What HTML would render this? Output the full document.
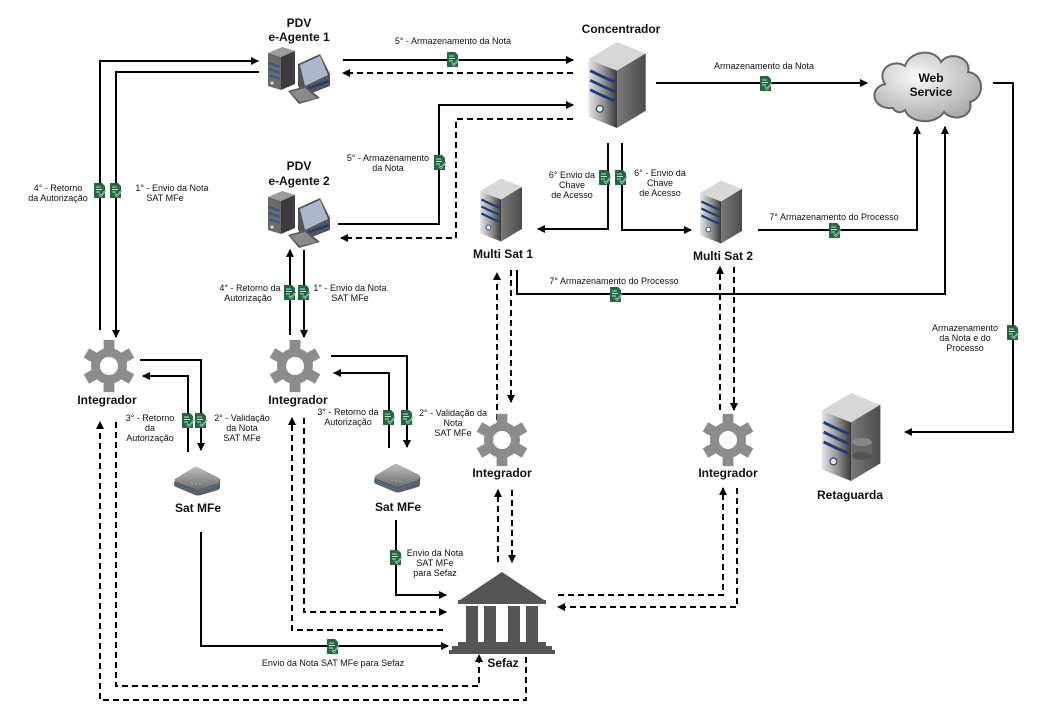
<!DOCTYPE html>
<html><head><meta charset="utf-8"><style>
html,body{margin:0;padding:0;background:#fff;}
svg{display:block;font-family:"Liberation Sans",Arial,sans-serif;}
.b{font-weight:bold;font-size:12px;fill:#111;}
.s{font-size:9px;fill:#111;}
</style></head><body>
<svg width="1050" height="718" viewBox="0 0 1050 718" xmlns="http://www.w3.org/2000/svg">
<defs>
<marker id="ar" markerWidth="8" markerHeight="8" refX="7" refY="4" orient="auto" markerUnits="userSpaceOnUse"><path d="M0,0 L8,4 L0,8 z" fill="#000"/></marker>
<symbol id="doc" viewBox="0 0 12 15" width="12" height="15">
<path d="M0,0 H8 L11,3 V15 H0 z" fill="#1f6b3f"/>
<path d="M2,4 H7 M2,6.5 H8 M2,9 H6" stroke="#fff" stroke-width="0.8"/>
<path d="M5,11 L7,13 L12,7" stroke="#fff" stroke-width="1.6" fill="none"/>
<path d="M5,11 L7,13 L12,7" stroke="#1f6b3f" stroke-width="0.7" fill="none"/>
</symbol>
<linearGradient id="sg" x1="0" x2="1"><stop offset="0" stop-color="#e6e6e6"/><stop offset="0.5" stop-color="#9a9a9a"/><stop offset="1" stop-color="#3a3a3a"/></linearGradient>
<linearGradient id="sg2" x1="0" x2="1"><stop offset="0" stop-color="#cfcfcf"/><stop offset="1" stop-color="#6a6a6a"/></linearGradient>
<linearGradient id="bg" x1="0" y1="0" x2="0" y2="1"><stop offset="0" stop-color="#bdbdbd"/><stop offset="1" stop-color="#6e6e6e"/></linearGradient>
<radialGradient id="cg" cx="0.4" cy="0.35" r="0.7"><stop offset="0" stop-color="#fafafa"/><stop offset="1" stop-color="#a8a8a8"/></radialGradient>
<symbol id="server" viewBox="0 0 60 90" width="60" height="90">
<polygon points="0,18 30,0 60,12 30,30" fill="#d8d8d8"/>
<polygon points="0,18 30,30 30,90 0,78" fill="url(#sg)"/>
<polygon points="30,30 60,12 60,72 30,90" fill="url(#sg2)"/>
<polygon points="30,30 60,12 60,72 30,90" fill="#333" opacity="0.55"/>
<path d="M2,30 Q14,36 28,42 M2,40 Q14,46 28,52 M2,50 Q14,56 28,62" stroke="#1c3f7a" stroke-width="3" fill="none"/>
<circle cx="12" cy="70" r="3.5" fill="#eee" stroke="#1c3f7a" stroke-width="1.2"/>
</symbol>
<symbol id="pc" viewBox="0 0 64 60" width="64" height="60">
<polygon points="2,9 16,3 29,7 15,13" fill="#9a9a9a"/>
<polygon points="2,9 15,13 15,46 2,42" fill="#6a6a6a"/>
<polygon points="15,13 29,7 29,40 15,46" fill="#3c3c3c"/>
<path d="M3,19 L14,23 M3,25 L14,29 M3,31 L14,35" stroke="#2a5b9a" stroke-width="2"/>
<circle cx="6" cy="39" r="1.6" fill="#ddd"/>
<polygon points="32,20 54,10 64,30 64,42 38,52 32,42" fill="#555"/>
<polygon points="34,21 54,12 62,31 39,42" fill="#a9b8cc"/>
<path d="M37,46 L63,37" stroke="#1c3f7a" stroke-width="2.5"/>
<polygon points="22,47 40,42 54,54 33,60" fill="#5a5a5a"/>
<polygon points="24,48 39,44 51,54 34,58" fill="#8a8a8a"/>
</symbol>
<symbol id="gear" viewBox="-30 -30 60 60" width="60" height="60">
<g fill="#8c8c8c">
<circle r="20"/>
<rect x="-6" y="-29" width="12" height="58"/>
<rect x="-6" y="-29" width="12" height="58" transform="rotate(60)"/>
<rect x="-6" y="-29" width="12" height="58" transform="rotate(120)"/>
</g>
<circle r="10" fill="#fff"/>
</symbol>
<symbol id="sat" viewBox="0 0 48 30" width="48" height="30">
<path d="M2,13 L20,2 Q23,0 26,2 L46,12 Q48,14 47,17 L47,21 Q47,23 45,24 L28,29 Q25,30 22,29 L3,21 Q1,20 1,18 z" fill="#5e5e5e"/>
<path d="M2,13 L20,2 Q23,0 26,2 L46,12 Q48,14 45,17 L28,23 Q25,24 22,23 L4,16 Q1,15 2,13 z" fill="url(#bg)"/>
<path d="M2,19 L23,27 L46,19" stroke="#3d6fc0" stroke-width="1" fill="none"/>
<path d="M18,17 h2 M22,18 h2 M26,18 h2" stroke="#7ec87e" stroke-width="1"/>
</symbol>
</defs>

<g stroke="#000" stroke-width="2" fill="none">
<path d="M100,330 V61 H258" marker-end="url(#ar)"/>
<path d="M259,72 H116 V337" marker-end="url(#ar)"/>
<path d="M343,60 H573" marker-end="url(#ar)"/>
<path d="M338,224 H439 V105 H573" marker-end="url(#ar)"/>
<path d="M656,83 H867" marker-end="url(#ar)"/>
<path d="M993,83 H1013 V432 H905" marker-end="url(#ar)"/>
<path d="M608,143 V229 H538" marker-end="url(#ar)"/>
<path d="M622,143 V230 H691" marker-end="url(#ar)"/>
<path d="M758,230 H917 V127" marker-end="url(#ar)"/>
<path d="M517,270 V294 H945 V127" marker-end="url(#ar)"/>
<path d="M140,360 H201 V450" marker-end="url(#ar)"/>
<path d="M188,452 V376 H143" marker-end="url(#ar)"/>
<path d="M290,335 V250" marker-end="url(#ar)"/>
<path d="M304,250 V337" marker-end="url(#ar)"/>
<path d="M331,356 H407 V447" marker-end="url(#ar)"/>
<path d="M389,448 V373 H334" marker-end="url(#ar)"/>
<path d="M396,520 V595 H446" marker-end="url(#ar)"/>
<path d="M201,532 V646 H448" marker-end="url(#ar)"/>
</g>
<g stroke="#000" stroke-width="2" fill="none" stroke-dasharray="6,4">
<path d="M573,73 H343" marker-end="url(#ar)"/>
<path d="M573,119 H456 V238 H341" marker-end="url(#ar)"/>
<path d="M497,420 V273" marker-end="url(#ar)"/>
<path d="M511,270 V402" marker-end="url(#ar)"/>
<path d="M720,410 V267" marker-end="url(#ar)"/>
<path d="M734,267 V410" marker-end="url(#ar)"/>
<path d="M498,562 V490" marker-end="url(#ar)"/>
<path d="M512,490 V562" marker-end="url(#ar)"/>
<path d="M558,595 H723 V488" marker-end="url(#ar)"/>
<path d="M737,488 V607 H558" marker-end="url(#ar)"/>
<path d="M443,630 H292 V418" marker-end="url(#ar)"/>
<path d="M304,418 V612 H446" marker-end="url(#ar)"/>
<path d="M526,657 V700 H100 V422" marker-end="url(#ar)"/>
<path d="M116,422 V686 H479 V655" marker-end="url(#ar)"/>
</g>

<g>
<use href="#doc" x="94" y="183"/><use href="#doc" x="110" y="183"/>
<use href="#doc" x="447" y="52"/><use href="#doc" x="434" y="155"/>
<use href="#doc" x="760" y="76"/><use href="#doc" x="1007" y="325"/>
<use href="#doc" x="599" y="170"/><use href="#doc" x="615" y="170"/>
<use href="#doc" x="829" y="223"/><use href="#doc" x="610" y="287"/>
<use href="#doc" x="182" y="413"/><use href="#doc" x="195" y="413"/>
<use href="#doc" x="284" y="285"/><use href="#doc" x="298" y="285"/>
<use href="#doc" x="383" y="410"/><use href="#doc" x="401" y="410"/>
<use href="#doc" x="390" y="550"/><use href="#doc" x="327" y="639"/>
</g>

<use href="#pc" x="266" y="44"/>
<use href="#pc" x="266" y="188"/>
<use href="#server" x="587" y="42" width="60" height="86"/>
<use href="#server" x="480" y="175" width="42" height="70"/>
<use href="#server" x="700" y="177" width="42" height="70"/>
<use href="#server" x="815" y="393" width="72" height="88"/>
<ellipse cx="862" cy="442" rx="10" ry="4" fill="#555"/><rect x="852" y="442" width="20" height="14" fill="#666"/><ellipse cx="862" cy="456" rx="10" ry="4" fill="#555"/><ellipse cx="862" cy="442" rx="10" ry="4" fill="#888"/>
<use href="#gear" x="82" y="339" width="54" height="54"/>
<use href="#gear" x="268" y="339" width="54" height="54"/>
<use href="#gear" x="475" y="413" width="54" height="54"/>
<use href="#gear" x="701" y="413" width="54" height="54"/>
<use href="#sat" x="173" y="466"/>
<use href="#sat" x="373" y="463"/>
<path d="M893,108 C872,110 868,88 885,84 C876,70 892,58 905,66 C910,50 935,48 941,62 C950,50 972,58 968,72 C985,74 985,98 970,102 C974,118 952,122 944,112 C936,125 910,124 905,110 C900,114 895,112 893,108 z" fill="url(#cg)" stroke="#666" stroke-width="2"/>
<g fill="#555">
<polygon points="502,572 460,600 544,600"/>
<rect x="458" y="600" width="88" height="4"/>
<rect x="466" y="606" width="12" height="36"/><rect x="484" y="606" width="12" height="36"/><rect x="508" y="606" width="12" height="36"/><rect x="526" y="606" width="12" height="36"/>
<rect x="458" y="642" width="88" height="4"/><rect x="452" y="646" width="100" height="4"/><rect x="449" y="650" width="106" height="4"/>
</g>

<g class="b" text-anchor="middle">
<text x="299" y="27">PDV</text><text x="299" y="41">e-Agente 1</text>
<text x="299" y="170">PDV</text><text x="299" y="185">e-Agente 2</text>
<text x="621" y="33">Concentrador</text>
<text x="931" y="82">Web</text><text x="931" y="96">Service</text>
<text x="503" y="258">Multi Sat 1</text>
<text x="723" y="260">Multi Sat 2</text>
<text x="107" y="404">Integrador</text>
<text x="298" y="404">Integrador</text>
<text x="502" y="477">Integrador</text>
<text x="728" y="477">Integrador</text>
<text x="198" y="512">Sat MFe</text>
<text x="398" y="511">Sat MFe</text>
<text x="503" y="667">Sefaz</text>
<text x="850" y="499">Retaguarda</text>
</g>
<g class="s" text-anchor="middle">
<text x="58" y="191">4° - Retorno</text><text x="58" y="201">da Autorização</text>
<text x="172" y="191">1° - Envio da Nota</text><text x="165" y="201">SAT MFe</text>
<text x="453" y="44">5° - Armazenamento da Nota</text>
<text x="388" y="161">5° - Armazenamento</text><text x="388" y="171">da Nota</text>
<text x="764" y="69">Armazenamento da Nota</text>
<text x="965" y="331">Armazenamento</text><text x="965" y="341">da Nota e do</text><text x="965" y="351">Processo</text>
<text x="572" y="178">6° Envio da</text><text x="572" y="188">Chave</text><text x="572" y="198">de Acesso</text>
<text x="660" y="176">6° - Envio da</text><text x="660" y="186">Chave</text><text x="660" y="196">de Acesso</text>
<text x="834" y="220">7° Armazenamento do Processo</text>
<text x="614" y="284">7° Armazenamento do Processo</text>
<text x="250" y="291">4° - Retorno da</text><text x="248" y="301">Autorização</text>
<text x="350" y="291">1° - Envio da Nota</text><text x="350" y="301">SAT MFe</text>
<text x="150" y="421">3° - Retorno</text><text x="150" y="431">da</text><text x="150" y="441">Autorização</text>
<text x="242" y="421">2° - Validação</text><text x="242" y="431">da Nota</text><text x="242" y="441">SAT MFe</text>
<text x="348" y="415">3° - Retorno da</text><text x="348" y="425">Autorização</text>
<text x="453" y="416">2° - Validação da</text><text x="453" y="426">Nota</text><text x="453" y="436">SAT MFe</text>
<text x="435" y="556">Envio da Nota</text><text x="435" y="566">SAT MFe</text><text x="435" y="576">para Sefaz</text>
<text x="333" y="666">Envio da Nota SAT MFe para Sefaz</text>
</g>
</svg>
</body></html>
